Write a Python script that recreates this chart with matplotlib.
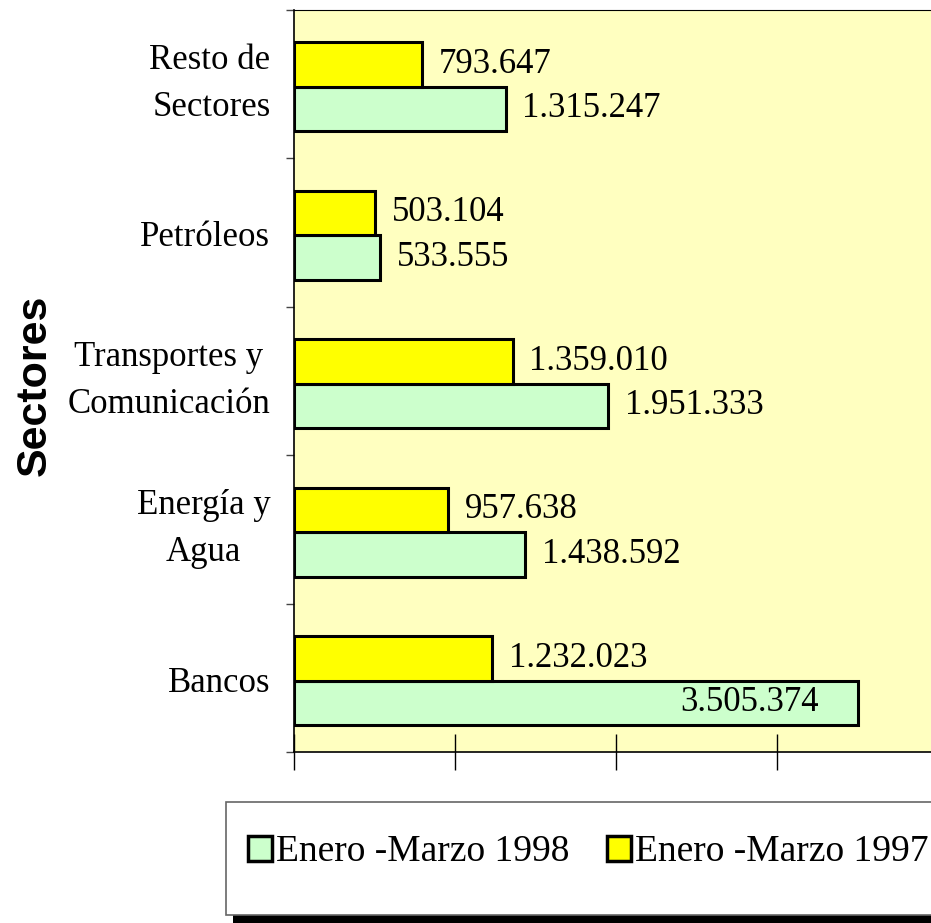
import matplotlib
matplotlib.use("Agg")
import matplotlib.pyplot as plt
from matplotlib.patches import Rectangle, Patch

# datos (pesetas), de abajo hacia arriba
sectores = ["Bancos", "Energía y\nAgua", "Transportes y\nComunicación", "Petróleos", "Resto de\nSectores"]
v1998 = [3505374, 1438592, 1951333, 533555, 1315247]
v1997 = [1232023, 957638, 1359010, 503104, 793647]
etiquetas_1998 = ["3.505.374", "1.438.592", "1.951.333", "533.555", "1.315.247"]
etiquetas_1997 = ["1.232.023", "957.638", "1.359.010", "503.104", "793.647"]

SERIF = "Liberation Serif"
COL_1998 = "#CCFFCC"
COL_1997 = "#FFFF00"
FONDO = "#FFFFC0"
FS = 25

fig = plt.figure(figsize=(9.31, 9.23), dpi=100)
ax = fig.add_axes([294 / 931, 1 - 752 / 923, 1 - 294 / 931, (752 - 9.5) / 923])
ax.set_facecolor(FONDO)

y = list(range(len(sectores)))
h = 0.3
off = -0.02
ax.barh([i + off - h / 2 for i in y], v1998, height=h, color=COL_1998,
        edgecolor="black", linewidth=2.2, zorder=3)
ax.barh([i + off + h / 2 for i in y], v1997, height=h, color=COL_1997,
        edgecolor="black", linewidth=2.2, zorder=3)

for i in y:
    if i == 0:
        # el valor de Bancos va dentro de la barra
        ax.annotate(etiquetas_1998[i], (v1998[i], i + off - h / 2), xytext=(-28, 0),
                    textcoords="offset points", ha="right", va="center",
                    fontsize=FS, family=SERIF, zorder=4)
    else:
        ax.annotate(etiquetas_1998[i], (v1998[i], i + off - h / 2), xytext=(12, 0),
                    textcoords="offset points", ha="left", va="center",
                    fontsize=FS, family=SERIF, zorder=4)
    ax.annotate(etiquetas_1997[i], (v1997[i], i + off + h / 2), xytext=(12, 0),
                textcoords="offset points", ha="left", va="center",
                fontsize=FS, family=SERIF, zorder=4)

ax.set_xlim(0, 3.959e6)
ax.set_ylim(-0.5, 4.5)

ax.set_xticks([0, 1e6, 2e6, 3e6])
ax.set_xticklabels([])
ax.tick_params(axis="x", direction="inout", length=26, width=1)

# nombres de sector a mano
ax.set_yticks([])
for i, nombre in enumerate(sectores):
    dos = "\n" in nombre
    ax.annotate(nombre, (0, i), xycoords=("axes fraction", "data"),
                xytext=(-17, 0 if dos else -4), textcoords="offset points",
                ha="right", va="center", fontsize=FS, family=SERIF, linespacing=1.55,
                multialignment="right" if i == 4 else "center", annotation_clip=False)
ax.set_yticks([-0.5, 0.5, 1.5, 2.5, 3.5, 4.5], minor=True)
ax.tick_params(axis="y", which="minor", direction="out", length=6, width=1, color="#444444")

for s in ["left", "bottom"]:
    ax.spines[s].set_linewidth(1.2)
ax.spines["top"].set_linewidth(0.8)
ax.spines["right"].set_visible(False)

fig.text(35 / 931, 1 - 385 / 923, "Sectores", rotation=90, ha="center", va="center",
         fontsize=31, fontweight="bold", family="Liberation Sans")

# caja de leyenda con sombra
fig.patches.append(Rectangle((233 / 931, 0), 1, (923 - 915) / 923, transform=fig.transFigure,
                             facecolor="black", edgecolor="none", zorder=1))
fig.patches.append(Rectangle((226 / 931, (923 - 915) / 923), 1, (915 - 802) / 923,
                             transform=fig.transFigure, facecolor="white",
                             edgecolor="#666666", linewidth=1.2, zorder=2))

handles = [Patch(facecolor=COL_1998, edgecolor="black", linewidth=2.5),
           Patch(facecolor=COL_1997, edgecolor="black", linewidth=2.5)]
fig.legend(handles, ["Enero -Marzo 1998", "Enero -Marzo 1997"], loc="center left",
           bbox_to_anchor=(248 / 931, 1 - 852 / 923), ncol=2, frameon=False,
           prop={"family": SERIF, "size": 27}, handlelength=0.65, handleheight=0.65,
           handletextpad=0.1, columnspacing=1.0, borderaxespad=0, borderpad=0)

fig.savefig("out.png", dpi=100)
